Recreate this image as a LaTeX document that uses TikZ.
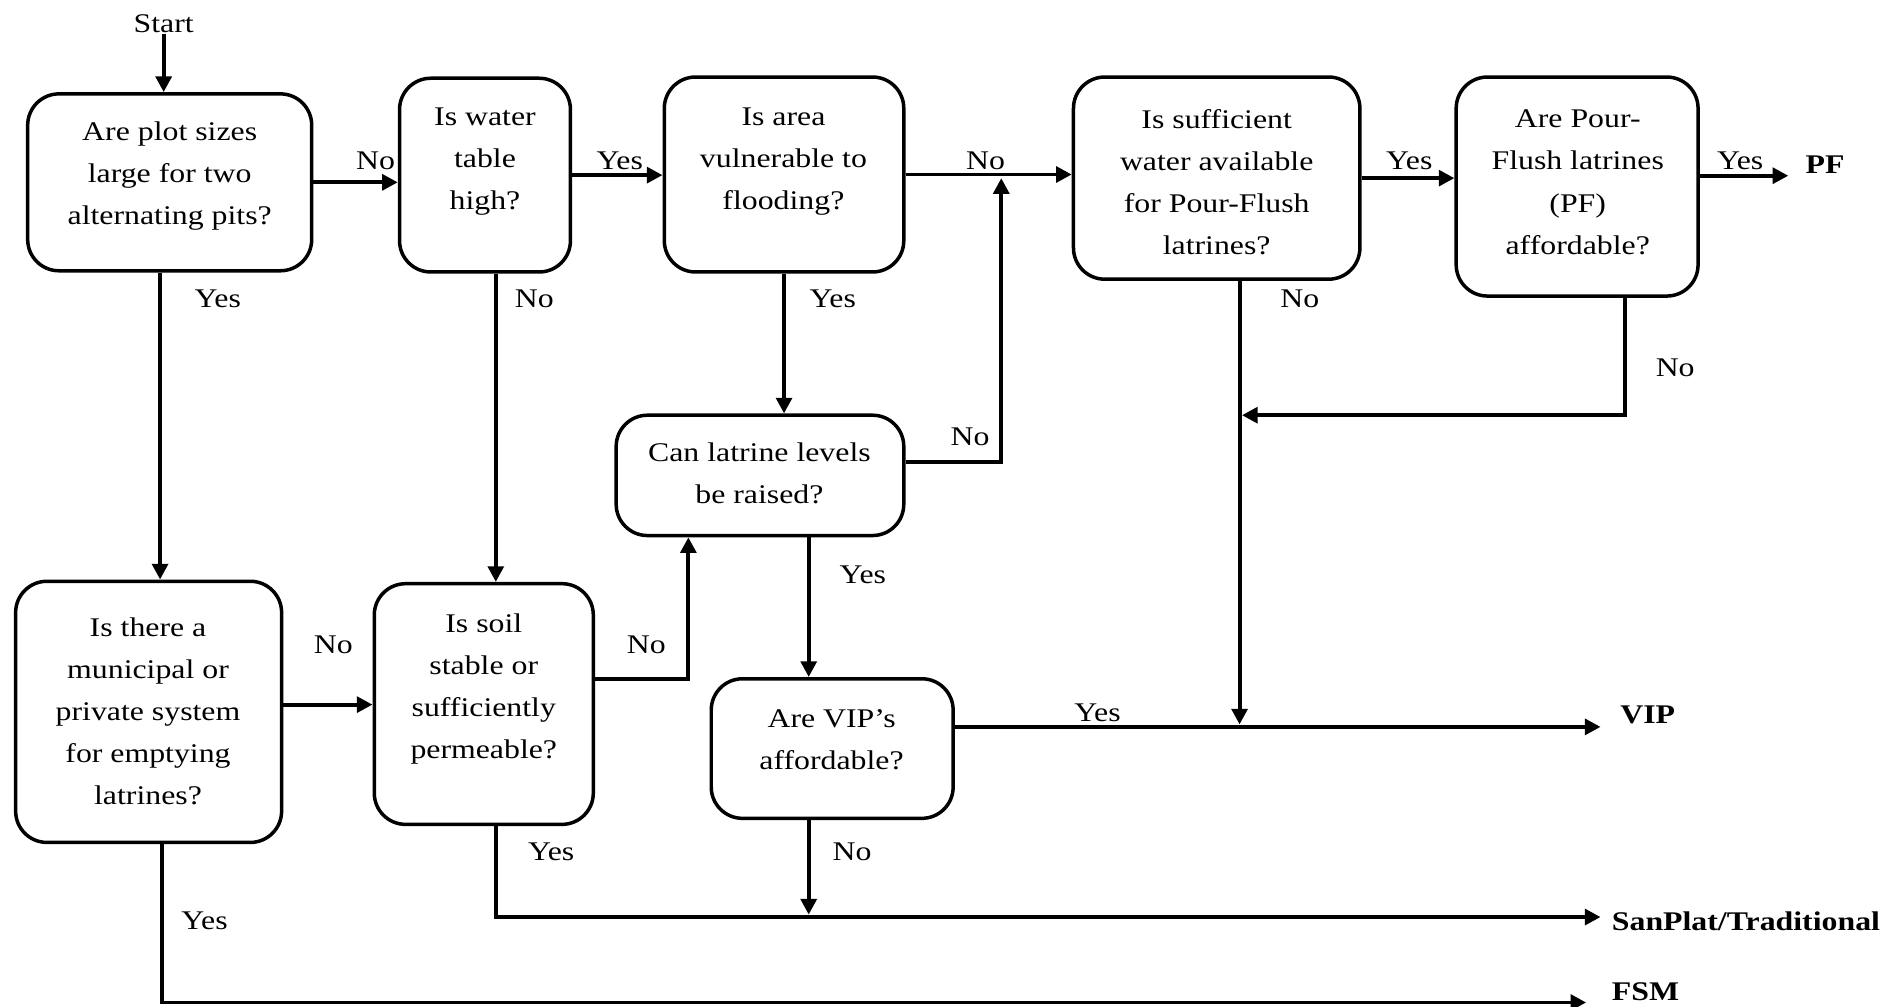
\documentclass[tikz,border=0pt]{standalone}
\usepackage{fontspec}
\setmainfont{Liberation Serif}[FakeStretch=1.18]
\usetikzlibrary{arrows.meta,fit}
\begin{document}
\begin{tikzpicture}[x=0.5pt,y=-0.5pt,
 qbox/.style={draw, line width=1.45pt, rounded corners=13pt, inner sep=0pt},
 qtext/.style={align=center, font=\fontsize{11.2pt}{17.5pt}\selectfont, inner sep=0pt},
 lbl/.style={font=\fontsize{11.2pt}{13pt}\selectfont, inner sep=0pt},
 outl/.style={font=\fontsize{11.2pt}{13pt}\selectfont\bfseries, inner sep=0pt, anchor=base west},
 arr/.style={line width=1.65pt, -{Triangle[length=6.5pt,width=6.5pt]}}]
\useasboundingbox (0,0) rectangle (1568,836);

% boxes
\node[qbox, fit={(23,78) (259,225)}] (A) {};
\node[qbox, fit={(332,65) (474,226)}] (B) {};
\node[qbox, fit={(552,64) (751,226)}] (C) {};
\node[qbox, fit={(892,64) (1130,232)}] (D) {};
\node[qbox, fit={(1210,64) (1411,246)}] (E) {};
\node[qbox, fit={(512,345) (751,445)}] (F) {};
\node[qbox, fit={(13,483) (234,700)}] (G) {};
\node[qbox, fit={(311,485) (493,685)}] (H) {};
\node[qbox, fit={(591,564) (792,680)}] (I) {};

% box texts
\node[qtext] (At) at (141,146.5) {Are plot sizes\\large for two\\alternating pits?};
\node[qtext] (Bt) at (403,134) {Is water\\table\\high?};
\node[qtext] (Ct) at (651,134) {Is area\\vulnerable to\\flooding?};
\node[qtext] (Dt) at (1011,151.5) {Is sufficient\\water available\\for Pour-Flush\\latrines?};
\node[qtext] (Et) at (1311,151.5) {Are Pour-\\Flush latrines\\(PF)\\affordable?};
\node[qtext] (Ft) at (631,393.5) {Can latrine levels\\be raised?};
\node[qtext] (Gt) at (123,591) {Is there a\\municipal or\\private system\\for emptying\\latrines?};
\node[qtext] (Ht) at (402,572.5) {Is soil\\stable or\\sufficiently\\permeable?};
\node[qtext] (It) at (691,614.5) {Are VIP’s\\affordable?};

% start and outcomes
\node[lbl] (start) at (136,20) {Start};
\coordinate (pfEnd) at (1486,146);
\coordinate (vipEnd) at (1330,604);
\coordinate (sanEnd) at (1330,762);
\coordinate (fsmEnd) at (1318,833);
\coordinate (J1) at (832,148);
\coordinate (J2) at (1032,345);
\coordinate (J3) at (1030,602);
\coordinate (J4) at (672,760);
\node[outl] (PF) at (1500,144) {PF};
\node[outl] (VIP) at (1346,601) {VIP};
\node[outl] (SAN) at (1339,773) {SanPlat/Traditional};
\node[outl] (FSM) at (1339,831) {FSM};

% connectors
\draw[arr] (start.south) -- (start.south |- A.north);
\draw[arr] (A.east) -- (A.east -| B.west);
\draw[arr] (B.east) -- (B.east -| C.west);
\draw[arr] (C.east) -- (C.east -| D.west);
\draw[arr] (D.east) -- (D.east -| E.west);
\draw[arr] (E.east |- pfEnd) -- (pfEnd);
\draw[arr] ([xshift=-4pt]A.south) -- ([xshift=-4pt]A.south |- G.north);
\draw[arr] ([xshift=4.5pt]B.south) -- ([xshift=4.5pt]B.south |- H.north);
\draw[arr] (C.south) -- (C.south |- F.north);
\draw[arr] ([yshift=5.5pt]F.east) -| (J1);
\draw[arr] ([xshift=9.5pt]D.south) -- (J3);
\draw[arr] ([xshift=20pt]E.south) |- (J2);
\draw[arr] ([xshift=20.25pt]F.south) -- ([xshift=20.25pt]F.south |- I.north);
\draw[arr] ([yshift=3pt]G.east) -- ([yshift=3pt]G.east -| H.west);
\draw[arr] ([yshift=10.5pt]H.east) -| ([xshift=-29.75pt]F.south);
\draw[arr] ([yshift=9pt]I.east) -- (vipEnd);
\draw[arr] ([xshift=-9.75pt]I.south) -- (J4);
\draw[arr] ([xshift=5pt]H.south) |- (sanEnd);
\draw[arr] ([xshift=5.75pt]G.south) |- (fsmEnd);

% labels
\node[lbl] (l1) at (312,134) {No};
\node[lbl] (l2) at (515,134) {Yes};
\node[lbl] (l3) at (819,134) {No};
\node[lbl] (l4) at (1171,134) {Yes};
\node[lbl] (l5) at (1446,134) {Yes};
\node[lbl] (l6) at (181,248) {Yes};
\node[lbl] (l7) at (444,248) {No};
\node[lbl] (l8) at (692,248) {Yes};
\node[lbl] (l9) at (1080,248) {No};
\node[lbl] (l10) at (1392,306) {No};
\node[lbl] (l11) at (806,363) {No};
\node[lbl] (l12) at (717,478) {Yes};
\node[lbl] (l13) at (277,536) {No};
\node[lbl] (l14) at (537,536) {No};
\node[lbl] (l15) at (912,592) {Yes};
\node[lbl] (l16) at (708,708) {No};
\node[lbl] (l17) at (458,708) {Yes};
\node[lbl] (l18) at (170,765) {Yes};
\end{tikzpicture}
\end{document}
